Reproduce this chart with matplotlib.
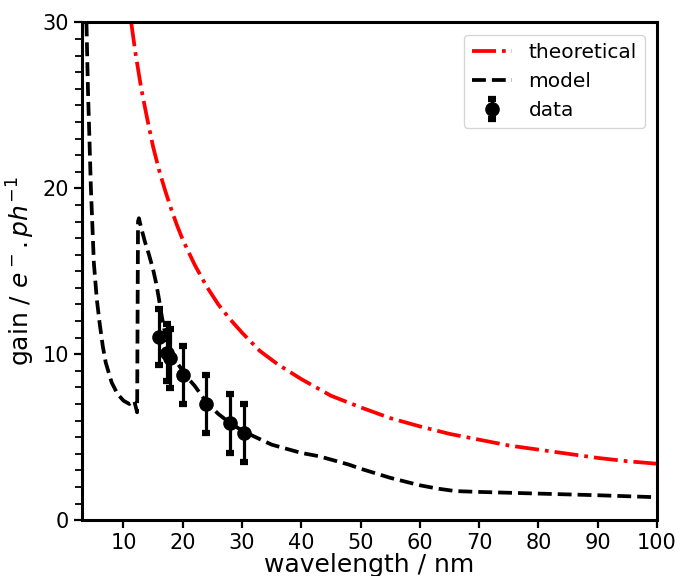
import numpy as np # библиотека для работы с массивами
import matplotlib
matplotlib.use("Agg")
import matplotlib.pyplot as plt # библиотека для работы с графиками
from matplotlib.ticker import MultipleLocator

# теоретическая кривая
theory_x = [11.3, 12, 13, 14, 15, 16, 17, 18, 19, 20, 22, 24, 26, 28, 30, 33, 36, 40,
            45, 50, 55, 60, 65, 70, 75, 80, 85, 90, 95, 100]
theory_y = [30.0, 28.2, 26.0, 24.2, 22.5, 21.1, 19.9, 18.8, 17.8, 16.9, 15.4, 14.1, 13.0,
            12.1, 11.3, 10.2, 9.4, 8.5, 7.5, 6.8, 6.15, 5.65, 5.2, 4.85, 4.5, 4.25, 4.0,
            3.75, 3.55, 3.4]

# модель
model_x = [3.75, 4.0, 4.5, 5.0, 5.5, 6.0, 6.5, 7.0, 8.0, 9.0, 10.0, 11.0, 11.8, 12.3,
           12.45, 12.6, 13.0, 13.6, 14.3, 15.0, 15.5, 16.0, 16.5, 17.0, 17.5, 18.0, 19.0,
           20.0, 21.0, 22.0, 24.0, 26.0, 28.0, 30.0, 32.0, 35.0, 38.0, 40.0, 43.0, 45.0,
           48.0, 50.0, 55.0, 60.0, 63.0, 66.0, 70.0, 80.0, 90.0, 100.0]
model_y = [30.0, 26.0, 20.0, 15.5, 13.3, 11.8, 10.5, 9.5, 8.3, 7.6, 7.2, 7.0, 7.2, 6.5,
           18.0, 18.2, 17.6, 16.8, 16.0, 15.1, 14.3, 13.3, 12.2, 11.3, 10.5, 10.1, 9.5,
           9.0, 8.5, 8.1, 7.1, 6.4, 5.85, 5.4, 5.05, 4.55, 4.25, 4.05, 3.85, 3.65,
           3.35, 3.1, 2.55, 2.1, 1.9, 1.75, 1.7, 1.6, 1.5, 1.38]

# измерения
data_x = [16.0, 17.4, 17.8, 20.0, 24.0, 28.0, 30.4]
data_y = [11.05, 10.1, 9.75, 8.75, 7.0, 5.83, 5.25]
data_err = [1.7, 1.7, 1.77, 1.72, 1.75, 1.76, 1.76]

fig = plt.figure(figsize=(6.8, 5.76), dpi=100) # создаем фигуру
ax = fig.add_axes([0.1206, 0.097, 0.8455, 0.864]) # оси

ax.plot(theory_x, theory_y, color="red", linestyle="-.", linewidth=2.7, label="theoretical")
ax.plot(model_x, model_y, color="black", linestyle="--", linewidth=2.7, label="model")
ax.errorbar(data_x, data_y, yerr=data_err, fmt="o", color="black", markersize=9.5,
            elinewidth=2.3, capsize=2.6, capthick=4.5, label="data")

ax.set_xlim(3, 100)
ax.set_ylim(0, 30)
ax.xaxis.set_major_locator(MultipleLocator(10))
ax.yaxis.set_major_locator(MultipleLocator(10))
ax.yaxis.set_minor_locator(MultipleLocator(1))

ax.set_xlabel("wavelength / nm", fontsize=18, labelpad=0) # подписываем ось X
ax.set_ylabel(r"gain / $e^-.ph^{-1}$", fontsize=18, labelpad=4) # подписываем ось Y

ax.tick_params(axis="both", which="major", labelsize=15, length=6, width=1.6)
ax.tick_params(axis="y", which="minor", length=5, width=1.3)
for sp in ax.spines.values():
    sp.set_linewidth(2.2)

ax.legend(loc="upper right", fontsize=14.5, borderaxespad=0.6)

plt.savefig("out.png", dpi=100) # сохраняем график как файл-картинку
